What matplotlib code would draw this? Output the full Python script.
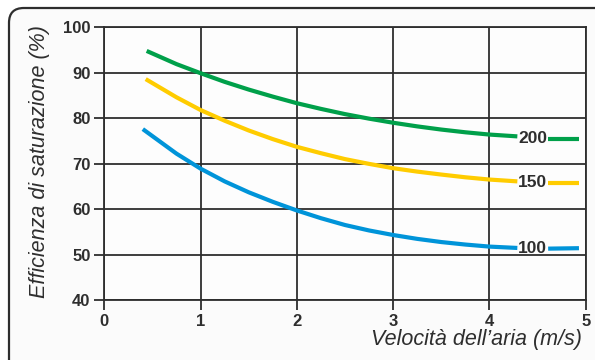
import matplotlib
matplotlib.use("Agg")
import matplotlib.pyplot as plt
from matplotlib.patches import FancyBboxPatch

# ---- data ----
x_200 = [0.44, 0.75, 1.0, 1.25, 1.5, 1.75, 2.0, 2.25, 2.5, 2.75, 3.0, 3.25, 3.5, 3.75, 4.0, 4.29]
y_200 = [94.8, 91.9, 89.9, 88.0, 86.3, 84.75, 83.3, 82.05, 80.9, 79.9, 79.0, 78.2, 77.5, 76.9, 76.4, 76.0]
x_200_tail = [4.61, 4.93]
y_200_tail = [75.5, 75.5]

x_150 = [0.43, 0.75, 1.0, 1.25, 1.5, 1.75, 2.0, 2.25, 2.5, 2.75, 3.0, 3.25, 3.5, 3.75, 4.0, 4.29]
y_150 = [88.6, 84.6, 81.8, 79.45, 77.3, 75.4, 73.7, 72.3, 71.0, 69.95, 69.0, 68.25, 67.6, 67.0, 66.5, 66.1]
x_150_tail = [4.61, 4.93]
y_150_tail = [65.8, 65.8]

x_100 = [0.40, 0.75, 1.0, 1.25, 1.5, 1.75, 2.0, 2.25, 2.5, 2.75, 3.0, 3.25, 3.5, 3.75, 4.0, 4.29]
y_100 = [77.6, 72.2, 68.9, 66.1, 63.7, 61.6, 59.7, 58.0, 56.5, 55.3, 54.3, 53.45, 52.75, 52.2, 51.75, 51.45]
x_100_tail = [4.61, 4.93]
y_100_tail = [51.3, 51.4]

series_labels = ["200", "150", "100"]
label_x = 4.45
x_ticks = [0, 1, 2, 3, 4, 5]
y_ticks = [40, 50, 60, 70, 80, 90, 100]
x_label = "Velocità dell’aria (m/s)"
y_label = "Efficienza di saturazione (%)"

# ---- style ----
plt.rcParams['font.family'] = ['Liberation Sans', 'DejaVu Sans']
dark = "#2e2e2e"
green = "#00a04a"
yellow = "#ffcc00"
blue = "#0094d9"

fig = plt.figure(figsize=(5.95, 3.6), dpi=100)
fig.patch.set_facecolor("white")

# rounded frame
W, H = 595.0, 360.0
box = FancyBboxPatch((9 / W, -0.2), 1.2, (H - 8) / H + 0.2,
                     boxstyle="round,pad=0,rounding_size=0.025",
                     transform=fig.transFigure, facecolor="#fbfbfb",
                     edgecolor=dark, linewidth=1.6, zorder=-10,
                     mutation_aspect=W / H)
fig.patches.append(box)

ax = fig.add_axes([104.3 / W, 60 / H, (585.7 - 104.3) / W, (300 - 27.3) / H])
ax.set_zorder(5)
ax.set_facecolor("#fdfdfd")
ax.set_xlim(0, 5)
ax.set_ylim(40, 100)
ax.set_xticks(x_ticks)
ax.set_yticks(y_ticks)
ax.grid(True, color=dark, linewidth=1.3)
ax.set_axisbelow(True)
for s in ax.spines.values():
    s.set_color(dark)
    s.set_linewidth(1.3)
ax.tick_params(direction="out", length=7, width=1.3, color=dark,
               labelsize=12, labelcolor=dark, pad=3)
for lab in ax.get_xticklabels() + ax.get_yticklabels():
    lab.set_fontweight("bold")

lw = 3.0
kw = dict(lw=lw, solid_capstyle="butt", solid_joinstyle="round")
ax.plot(x_200, y_200, color=green, **kw)
ax.plot(x_200_tail, y_200_tail, color=green, **kw)
ax.plot(x_150, y_150, color=yellow, **kw)
ax.plot(x_150_tail, y_150_tail, color=yellow, **kw)
ax.plot(x_100, y_100, color=blue, **kw)
ax.plot(x_100_tail, y_100_tail, color=blue, **kw)

for lab, yv in zip(series_labels, [y_200_tail[0], y_150_tail[0], y_100_tail[0]]):
    ax.text(label_x, yv, lab, ha="center", va="center", fontsize=12.5,
            fontweight="bold", color=dark)

fig.text(582 / W, 1 - 339 / H, x_label, ha="right", va="center",
         fontsize=15.5, style="italic", color=dark)
fig.text(40 / W, 1 - 162 / H, y_label, ha="center", va="center",
         rotation=90, fontsize=15.5, style="italic", color=dark)

fig.savefig("out.png", dpi=100, facecolor="white")
